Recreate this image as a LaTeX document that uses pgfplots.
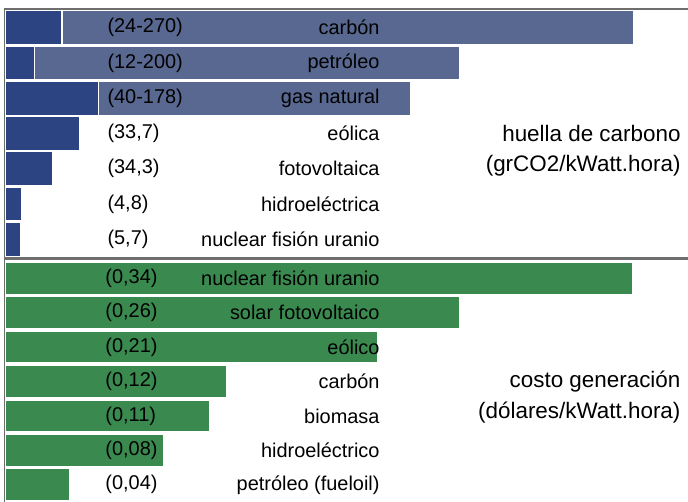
\documentclass[border=0pt]{standalone}
\usepackage{fontspec}
\setmainfont{Liberation Sans}
\usepackage{pgfplots}
\pgfplotsset{compat=1.18}
\definecolor{navy}{RGB}{44,68,130}
\definecolor{slate}{RGB}{88,104,144}
\definecolor{verde}{RGB}{58,138,80}
\definecolor{linea}{RGB}{110,110,110}
\definecolor{texto}{RGB}{25,25,30}

\newcommand{\lbl}{\fontsize{20}{22}\selectfont}
\newcommand{\unidad}{\fontsize{22.5}{25}\selectfont}

\begin{document}
\begin{tikzpicture}
\useasboundingbox (0,0) rectangle (688bp,502bp);
\fill[white] (0,0) rectangle (688bp,502bp);

% ---- huella de carbono (grCO2/kWatt.hora) ----
\begin{axis}[
    at={(5bp,245bp)}, anchor=south west,
    scale only axis, width=683bp, height=247bp,
    xmin=0, xmax=293.2, ymin=0.5, ymax=7.5,
    hide axis, clip=false,
    every node/.style={text=texto, inner sep=0pt},
]
    % upper end of the ranges
    \addplot[xbar, bar shift=0pt, bar width=34bp, fill=slate, draw=white, line width=1.2bp]
        coordinates {(270,7) (195,6) (174,5)};
    % lower end of the ranges / single values
    \addplot[xbar, bar shift=0pt, bar width=34bp, fill=navy, draw=white, line width=1.2bp]
        coordinates {(24.5,7) (12.5,6) (40,5) (32,4) (20.5,3) (7,2) (6.5,1)};

    \node[anchor=west, font=\lbl] at (axis cs:42.5,7) {(24-270)};
    \node[anchor=west, font=\lbl] at (axis cs:42.5,6) {(12-200)};
    \node[anchor=west, font=\lbl] at (axis cs:42.5,5) {(40-178)};
    \node[anchor=west, font=\lbl] at (axis cs:42.5,4) {(33,7)};
    \node[anchor=west, font=\lbl] at (axis cs:42.5,3) {(34,3)};
    \node[anchor=west, font=\lbl] at (axis cs:42.5,2) {(4,8)};
    \node[anchor=west, font=\lbl] at (axis cs:42.5,1) {(5,7)};

    \node[anchor=east, font=\lbl] at (axis cs:162.3,7) {carbón};
    \node[anchor=east, font=\lbl] at (axis cs:162.3,6) {petróleo};
    \node[anchor=east, font=\lbl] at (axis cs:162.3,5) {gas natural};
    \node[anchor=east, font=\lbl] at (axis cs:162.3,4) {eólica};
    \node[anchor=east, font=\lbl] at (axis cs:162.3,3) {fotovoltaica};
    \node[anchor=east, font=\lbl] at (axis cs:162.3,2) {hidroeléctrica};
    \node[anchor=east, font=\lbl] at (axis cs:162.3,1) {nuclear fisión uranio};

    \node[anchor=east, font=\unidad] at (axis cs:291.5,4) {huella de carbono};
    \node[anchor=east, font=\unidad] at (axis cs:291.5,3.1) {(grCO2/kWatt.hora)};
\end{axis}

% ---- costo generacion (dolares/kWatt.hora) ----
\begin{axis}[
    at={(5bp,0bp)}, anchor=south west,
    scale only axis, width=683bp, height=241bp,
    xmin=0, xmax=0.3698, ymin=0.5, ymax=7.5,
    hide axis, clip=false,
    every node/.style={text=texto, inner sep=0pt},
]
    \addplot[xbar, bar shift=0pt, bar width=32bp, fill=verde, draw=white, line width=1.2bp]
        coordinates {(0.34,7) (0.246,6) (0.202,5) (0.12,4) (0.111,3) (0.086,2) (0.035,1)};

    \node[anchor=west, font=\lbl] at (axis cs:0.0525,7) {(0,34)};
    \node[anchor=west, font=\lbl] at (axis cs:0.0525,6) {(0,26)};
    \node[anchor=west, font=\lbl] at (axis cs:0.0525,5) {(0,21)};
    \node[anchor=west, font=\lbl] at (axis cs:0.0525,4) {(0,12)};
    \node[anchor=west, font=\lbl] at (axis cs:0.0525,3) {(0,11)};
    \node[anchor=west, font=\lbl] at (axis cs:0.0525,2) {(0,08)};
    \node[anchor=west, font=\lbl] at (axis cs:0.0525,1) {(0,04)};

    \node[anchor=east, font=\lbl] at (axis cs:0.2047,7) {nuclear fisión uranio};
    \node[anchor=east, font=\lbl] at (axis cs:0.2047,6) {solar fotovoltaico};
    \node[anchor=east, font=\lbl] at (axis cs:0.2047,5) {eólico};
    \node[anchor=east, font=\lbl] at (axis cs:0.2047,4) {carbón};
    \node[anchor=east, font=\lbl] at (axis cs:0.2047,3) {biomasa};
    \node[anchor=east, font=\lbl] at (axis cs:0.2047,2) {hidroeléctrico};
    \node[anchor=east, font=\lbl] at (axis cs:0.2047,1) {petróleo (fueloil)};

    \node[anchor=east, font=\unidad] at (axis cs:0.3676,4) {costo generación};
    \node[anchor=east, font=\unidad] at (axis cs:0.3676,3.1) {(dólares/kWatt.hora)};
\end{axis}

% frame lines
\draw[linea, line width=2bp] (4bp,493bp) -- (688bp,493bp);
\draw[linea, line width=3bp] (4bp,243.5bp) -- (688bp,243.5bp);
\draw[linea, line width=1.5bp] (4.5bp,0bp) -- (4.5bp,493bp);
\end{tikzpicture}
\end{document}
